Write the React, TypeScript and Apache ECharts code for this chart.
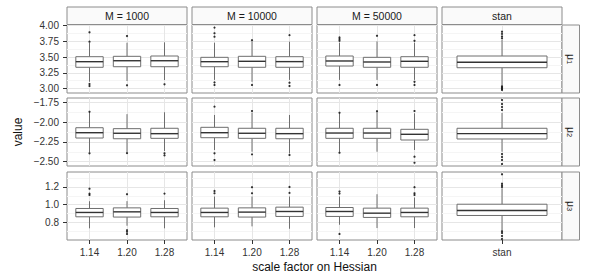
import React, { useEffect, useRef } from 'react';
import * as echarts from 'echarts';

// ---- categories / labels ----
const columnLabels = ['M = 1000', 'M = 10000', 'M = 50000', 'stan'];
const rowLabels = ['1', '2', '3']; // subscripts of μ
const scaleFactors = ['1.14', '1.20', '1.28'];
const stanCats = ['stan'];
const xTitle = 'scale factor on Hessian';
const yTitle = 'value';

// ---- y ticks / ranges per row ----
const mu1Ticks = [3.0, 3.25, 3.5, 3.75, 4.0];
const mu1Minor = [3.125, 3.375, 3.625, 3.875];
const mu1Range = [2.932, 4.011];
const mu2Ticks = [-2.5, -2.25, -2.0, -1.75];
const mu2Minor = [-2.375, -2.125, -1.875];
const mu2Range = [-2.554, -1.696];
const mu3Ticks = [0.8, 1.0, 1.2];
const mu3Minor = [0.7, 0.9, 1.1, 1.3];
const mu3Range = [0.601, 1.369];

// ---- box stats: [lower whisker, Q1, median, Q3, upper whisker] ----
const mu1_M1000 = [[3.111, 3.340, 3.429, 3.508, 3.725], [3.122, 3.349, 3.444, 3.514, 3.73], [3.138, 3.349, 3.444, 3.519, 3.736]];
const mu1_M10000 = [[3.14, 3.349, 3.429, 3.498, 3.73], [3.11, 3.34, 3.435, 3.514, 3.75], [3.14, 3.34, 3.43, 3.508, 3.746]];
const mu1_M50000 = [[3.14, 3.36, 3.44, 3.519, 3.73], [3.14, 3.34, 3.424, 3.498, 3.75], [3.14, 3.34, 3.435, 3.508, 3.73]];
const mu1_stan = [[3.059, 3.333, 3.419, 3.519, 3.773]];

const mu2_M1000 = [[-2.381, -2.201, -2.134, -2.071, -1.881], [-2.386, -2.21, -2.141, -2.083, -1.9], [-2.365, -2.205, -2.146, -2.078, -1.876]];
const mu2_M10000 = [[-2.352, -2.197, -2.134, -2.066, -1.91], [-2.374, -2.205, -2.141, -2.078, -1.88], [-2.394, -2.21, -2.146, -2.078, -1.91]];
const mu2_M50000 = [[-2.374, -2.205, -2.138, -2.078, -1.889], [-2.374, -2.205, -2.138, -2.078, -1.868], [-2.352, -2.226, -2.154, -2.091, -1.889]];
const mu2_stan = [[-2.374, -2.213, -2.146, -2.078, -1.885]];

const mu3_M1000 = [[0.733, 0.863, 0.912, 0.957, 1.039], [0.762, 0.86, 0.919, 0.964, 1.04], [0.733, 0.863, 0.912, 0.957, 1.05]];
const mu3_M10000 = [[0.744, 0.863, 0.912, 0.961, 1.092], [0.755, 0.86, 0.916, 0.964, 1.092], [0.728, 0.867, 0.923, 0.972, 1.092]];
const mu3_M50000 = [[0.773, 0.867, 0.923, 0.968, 1.092], [0.736, 0.856, 0.904, 0.961, 1.118], [0.736, 0.863, 0.912, 0.961, 1.081]];
const mu3_stan = [[0.713, 0.878, 0.935, 1.005, 1.185]];

// ---- outliers: [category position, value] ----
const mu1_M1000_out = [[1, 3.746], [1, 3.895], [1, 3.075], [1, 3.043], [2, 3.836], [2, 3.054], [3, 3.07]];
const mu1_M10000_out = [[1, 3.97], [1, 3.88], [1, 3.825], [1, 3.1], [1, 3.06], [2, 3.77], [2, 3.06], [3, 3.85], [3, 3.095], [3, 3.043]];
const mu1_M50000_out = [[1, 3.815], [1, 3.79], [1, 3.76], [1, 3.06], [2, 3.84], [2, 3.06], [3, 3.85], [3, 3.76], [3, 3.11], [3, 3.06]];
const mu1_stan_out = [[1, 3.905], [1, 3.87], [1, 3.83], [1, 3.8], [1, 3.04], [1, 3.02], [1, 3.0], [1, 2.98]];

const mu2_M1000_out = [[1, -1.87], [1, -2.394], [2, -2.392], [3, -2.394], [3, -2.42]];
const mu2_M10000_out = [[1, -1.805], [1, -2.394], [1, -2.479], [2, -1.86], [2, -2.407], [3, -2.415]];
const mu2_M50000_out = [[1, -1.882], [1, -2.386], [2, -1.862], [3, -1.86], [3, -2.437], [3, -2.513]];
const mu2_stan_out = [[1, -1.721], [1, -1.771], [1, -1.809], [1, -1.847], [1, -2.403], [1, -2.44], [1, -2.478], [1, -2.529]];

const mu3_M1000_out = [[1, 1.11], [1, 1.125], [1, 1.18], [2, 1.118], [2, 0.713], [2, 0.695], [2, 0.669], [3, 1.125]];
const mu3_M10000_out = [[1, 1.155], [1, 1.129], [2, 1.129], [2, 1.197], [3, 1.133], [3, 1.2]];
const mu3_M50000_out = [[1, 1.148], [1, 1.125], [1, 0.669], [3, 1.129], [3, 1.11], [3, 1.197]];
const mu3_stan_out = [[1, 1.343], [1, 1.238], [1, 1.219], [1, 1.2], [1, 0.7], [1, 0.68], [1, 0.646], [1, 0.612]];

// ---- layout / style (not data) ----
const FONT = 'Liberation Sans';
const panelLefts = [67, 192, 317, 442];
const panelTops = [25, 98, 172];
const PW = 120;
const PH = 68;
const BORDER = '#8c8c8c';
const MAJOR = '#e6e6e6';
const MINOR = '#f5f5f5';

const makeBoxRenderer = (widthUnits: number) => (_params: any, api: any) => {
  const x = api.value(0);
  const pLo = api.coord([x, api.value(1)]);
  const pQ1 = api.coord([x, api.value(2)]);
  const pMed = api.coord([x, api.value(3)]);
  const pQ3 = api.coord([x, api.value(4)]);
  const pHi = api.coord([x, api.value(5)]);
  const w = api.size([widthUnits, 0])[0];
  const cx = pMed[0];
  const stroke = '#6e6e6e';
  return {
    type: 'group',
    children: [
      { type: 'line', shape: { x1: cx, y1: pLo[1], x2: cx, y2: pQ1[1] }, style: { stroke, lineWidth: 1 } },
      { type: 'line', shape: { x1: cx, y1: pQ3[1], x2: cx, y2: pHi[1] }, style: { stroke, lineWidth: 1 } },
      { type: 'rect', shape: { x: cx - w / 2, y: pQ3[1], width: w, height: pQ1[1] - pQ3[1] }, style: { fill: '#ffffff', stroke, lineWidth: 1 } },
      { type: 'line', shape: { x1: cx - w / 2, y1: pMed[1], x2: cx + w / 2, y2: pMed[1] }, style: { stroke: '#333333', lineWidth: 1.4 } },
    ],
  };
};

export default function App() {
  const ref = useRef<HTMLDivElement>(null);
  useEffect(() => {
    document.body.style.margin = '0';
    if (!ref.current) return;
    const chart = echarts.init(ref.current, null, { renderer: 'svg' });

    const rowBoxes = [
      [mu1_M1000, mu1_M10000, mu1_M50000, mu1_stan],
      [mu2_M1000, mu2_M10000, mu2_M50000, mu2_stan],
      [mu3_M1000, mu3_M10000, mu3_M50000, mu3_stan],
    ];
    const rowOut = [
      [mu1_M1000_out, mu1_M10000_out, mu1_M50000_out, mu1_stan_out],
      [mu2_M1000_out, mu2_M10000_out, mu2_M50000_out, mu2_stan_out],
      [mu3_M1000_out, mu3_M10000_out, mu3_M50000_out, mu3_stan_out],
    ];
    const rowTicks = [mu1Ticks, mu2Ticks, mu3Ticks];
    const rowMinor = [mu1Minor, mu2Minor, mu3Minor];
    const rowRange = [mu1Range, mu2Range, mu3Range];
    const rowDigits = [2, 2, 1];

    const grids: any[] = [];
    const xAxes: any[] = [];
    const yAxes: any[] = [];
    const series: any[] = [];

    for (let r = 0; r < 3; r++) {
      for (let c = 0; c < 4; c++) {
        const idx = r * 4 + c;
        const cats = c === 3 ? stanCats : scaleFactors;
        const n = cats.length;
        const catPos = cats.map((_, i) => i + 1);
        grids.push({
          left: panelLefts[c], top: panelTops[r], width: PW, height: PH,
          show: true, backgroundColor: '#ffffff', borderColor: BORDER, borderWidth: 1,
        });
        const showX = r === 2;
        xAxes.push({
          type: 'value', gridIndex: idx, min: 0.4, max: n + 0.6,
          splitLine: { show: false }, axisLine: { show: false },
          axisTick: { show: showX, customValues: catPos, length: 4, lineStyle: { color: '#333333', width: 1 } },
          axisLabel: {
            show: showX, customValues: catPos, margin: 7, fontSize: 10, color: '#333333', fontFamily: FONT,
            formatter: (v: number) => cats[Math.round(v) - 1] ?? '',
          },
        });
        const showY = c === 0;
        const digits = rowDigits[r];
        const y: any = {
          type: 'value', gridIndex: idx, min: rowRange[r][0], max: rowRange[r][1],
          splitLine: { show: false }, axisLine: { show: false },
          axisTick: { show: showY, customValues: rowTicks[r], length: 4, lineStyle: { color: '#333333', width: 1 } },
          axisLabel: {
            show: showY, customValues: rowTicks[r], margin: 8, fontSize: 10, color: '#333333', fontFamily: FONT,
            formatter: (v: number) => v.toFixed(digits).replace('-', '\u2212'),
          },
        };
        if (r === 1 && c === 0) {
          y.name = yTitle;
          y.nameLocation = 'middle';
          y.nameGap = 43;
          y.nameTextStyle = { fontSize: 12, color: '#111111', fontFamily: FONT };
        }
        yAxes.push(y);

        const mlData: any[] = [];
        rowMinor[r].forEach((v) => mlData.push({ yAxis: v, lineStyle: { color: MINOR, width: 1, type: 'solid' } }));
        rowTicks[r].forEach((v) => mlData.push({ yAxis: v, lineStyle: { color: MAJOR, width: 1, type: 'solid' } }));
        catPos.forEach((v) => mlData.push({ xAxis: v, lineStyle: { color: MAJOR, width: 1, type: 'solid' } }));
        series.push({
          type: 'line', xAxisIndex: idx, yAxisIndex: idx, data: [], silent: true, z: 1,
          markLine: { silent: true, symbol: ['none', 'none'], label: { show: false }, z: 1, animation: false, data: mlData },
        });
        series.push({
          type: 'custom', xAxisIndex: idx, yAxisIndex: idx, z: 3, silent: true,
          renderItem: makeBoxRenderer(c === 3 ? 0.9 : 0.73),
          encode: { x: 0, y: [1, 2, 3, 4, 5] },
          data: rowBoxes[r][c].map((b, i) => [i + 1, ...b]),
        });
        series.push({
          type: 'scatter', xAxisIndex: idx, yAxisIndex: idx, z: 4, silent: true,
          symbolSize: 2.2, itemStyle: { color: '#000000' },
          data: rowOut[r][c],
        });
      }
    }

    const graphic: any[] = [];
    columnLabels.forEach((lab, c) => {
      graphic.push({ type: 'rect', shape: { x: panelLefts[c], y: 7, width: PW, height: 17.5 }, style: { fill: '#fafafa', stroke: BORDER, lineWidth: 1 }, silent: true });
      graphic.push({ type: 'text', x: panelLefts[c] + PW / 2, y: 16, silent: true, style: { text: lab, align: 'center', verticalAlign: 'middle', fontSize: 10.5, fill: '#1a1a1a', fontFamily: FONT } });
    });
    rowLabels.forEach((lab, r) => {
      graphic.push({ type: 'rect', shape: { x: panelLefts[3] + PW, y: panelTops[r], width: 17.5, height: PH }, style: { fill: '#fafafa', stroke: BORDER, lineWidth: 1 }, silent: true });
      graphic.push({
        type: 'text', x: panelLefts[3] + PW + 9, y: panelTops[r] + PH / 2, rotation: -Math.PI / 2, silent: true,
        style: {
          text: '{m|μ}{s|' + lab + '}', align: 'center', verticalAlign: 'middle', fill: '#1a1a1a', fontFamily: FONT,
          rich: { m: { fontSize: 10.5, fontFamily: FONT, fill: '#1a1a1a' }, s: { fontSize: 7.5, fontFamily: FONT, fill: '#1a1a1a', verticalAlign: 'bottom' } },
        },
      });
    });
    graphic.push({ type: 'text', x: 314.5, y: 267, silent: true, style: { text: xTitle, align: 'center', verticalAlign: 'middle', fontSize: 12, fill: '#111111', fontFamily: FONT } });

    chart.setOption({
      animation: false,
      grid: grids,
      xAxis: xAxes,
      yAxis: yAxes,
      series,
      graphic,
    });
    return () => chart.dispose();
  }, []);
  return <div ref={ref} style={{ width: 600, height: 273 }} />;
}
